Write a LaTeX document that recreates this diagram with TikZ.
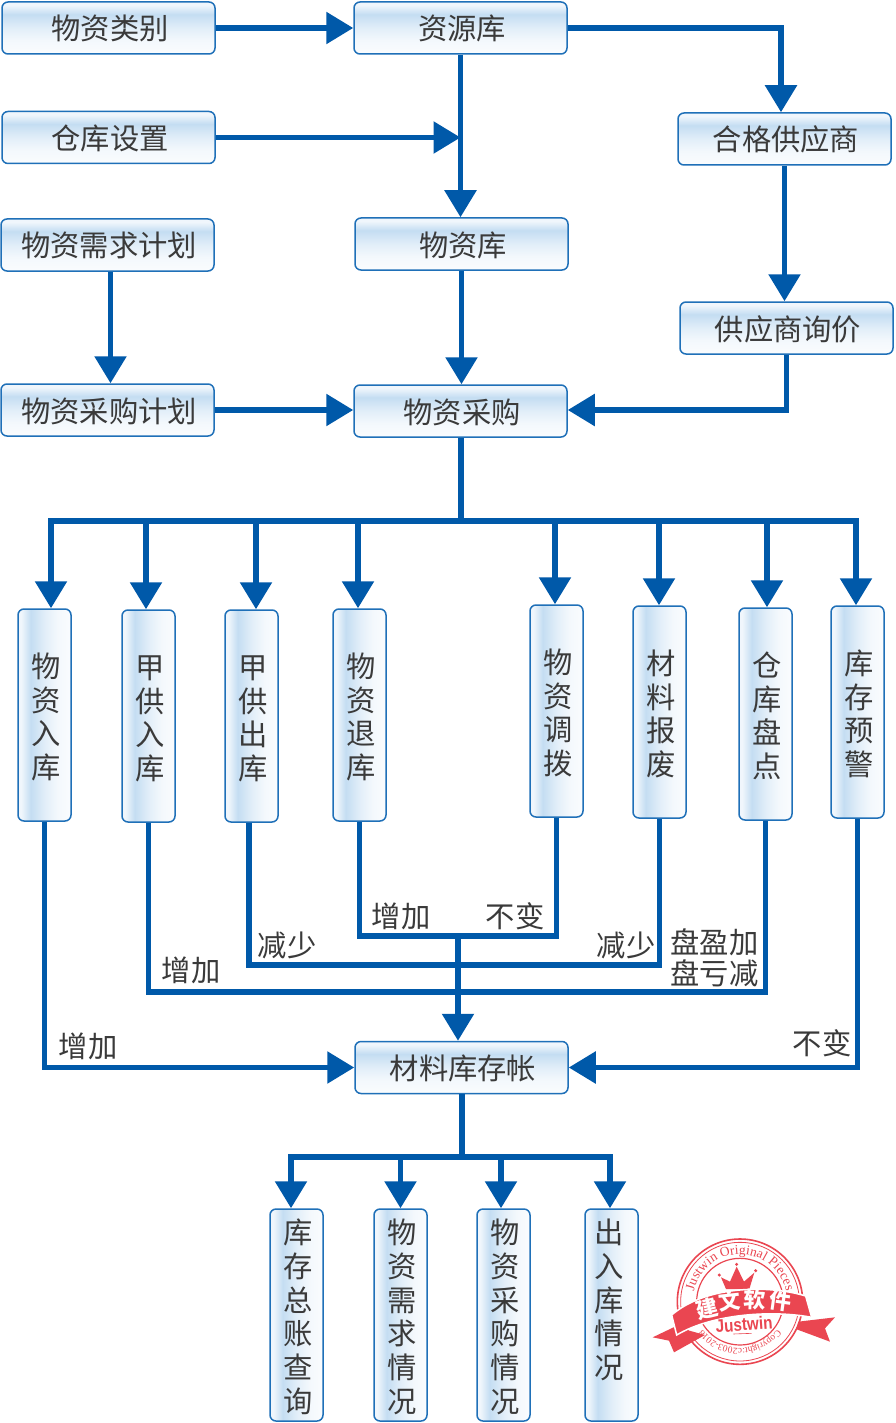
\documentclass[tikz,border=0pt]{standalone}
\usepackage{fontspec}
\setmainfont{Noto Sans CJK SC}
\newfontfamily\stampserif{Liberation Serif}
\newfontfamily\stampsans{Liberation Sans}
\usetikzlibrary{arrows.meta,decorations.text}
\definecolor{flow}{HTML}{0059A9}
\definecolor{edge}{HTML}{1F70B8}
\definecolor{ink}{HTML}{3A3A3A}
\definecolor{stamp}{HTML}{EA4651}
\definecolor{pale}{HTML}{C4DDF2}
\pgfdeclareverticalshading{boxshade}{100bp}{
  color(0bp)=(white); color(25bp)=(white!92!pale); color(38bp)=(white!80!pale); color(50bp)=(white!50!pale); color(63bp)=(pale); color(72bp)=(white!75!pale); color(75bp)=(white!75!pale); color(100bp)=(white)}
\newcommand\fc[1]{\rule{0pt}{28.5pt}\hspace*{3pt}#1}
\newcommand\nc[1]{\hspace*{3pt}#1}
\tikzset{
  base/.style={draw=edge,line width=1.5pt,rounded corners=6pt,shade,shading=boxshade,text=ink,inner sep=0pt,font=\fontsize{29.3}{33.7}\selectfont,align=center},
  hbox/.style={base,minimum width=213pt,minimum height=52pt,text height=27pt,text depth=3pt,execute at begin node={\hspace*{3pt}}},
  vbox/.style={base,minimum width=53pt,minimum height=212pt,shading angle=90},
  conn/.style={draw=flow,line width=5.5pt},
  arr/.style={conn,-{Triangle[width=31pt,length=27pt]}},
  tag/.style={text=ink,inner sep=0pt,font=\fontsize{29.3}{31}\selectfont,align=center},
  ring/.style={draw=stamp},
  stamptext/.style={inner sep=0pt,text=white,font=\bfseries\fontsize{22}{22}\selectfont}
}
\begin{document}
\begin{tikzpicture}[x=1pt,y=-1pt]
\useasboundingbox (0,0) rectangle (895,1423);
\fill[white] (0,0) rectangle (895,1423);
% horizontal boxes
\node[hbox] (lb) at (108.5,28) {物资类别};
\node[hbox] (zy) at (460.5,28) {资源库};
\node[hbox] (ck) at (108.5,137.5) {仓库设置};
\node[hbox] (hg) at (784.5,139) {合格供应商};
\node[hbox] (xq) at (107.5,245) {物资需求计划};
\node[hbox] (wz) at (461.5,244) {物资库};
\node[hbox] (xj) at (786.5,328) {供应商询价};
\node[hbox] (cj) at (107.5,410) {物资采购计划};
\node[hbox] (cg) at (460.5,411) {物资采购};
\node[hbox] (zh) at (461.5,1067.5) {材料库存帐};
% vertical boxes
\node[vbox] (v1) at (44.5,715) {\fc{物}\\\nc{资}\\\nc{入}\\\nc{库}};
\node[vbox] (v2) at (148.5,716) {\fc{甲}\\\nc{供}\\\nc{入}\\\nc{库}};
\node[vbox] (v3) at (251.5,716) {\fc{甲}\\\nc{供}\\\nc{出}\\\nc{库}};
\node[vbox] (v4) at (359.5,715) {\fc{物}\\\nc{资}\\\nc{退}\\\nc{库}};
\node[vbox] (v5) at (556.5,711) {\fc{物}\\\nc{资}\\\nc{调}\\\nc{拨}};
\node[vbox] (v6) at (659.5,712) {\fc{材}\\\nc{料}\\\nc{报}\\\nc{废}};
\node[vbox] (v7) at (765.5,714) {\fc{仓}\\\nc{库}\\\nc{盘}\\\nc{点}};
\node[vbox] (v8) at (857.5,712) {\fc{库}\\\nc{存}\\\nc{预}\\\nc{警}};
\node[vbox] (q1) at (296.5,1315) {\fc{库}\\\nc{存}\\\nc{总}\\\nc{账}\\\nc{查}\\\nc{询}};
\node[vbox] (q2) at (400.5,1315) {\fc{物}\\\nc{资}\\\nc{需}\\\nc{求}\\\nc{情}\\\nc{况}};
\node[vbox] (q3) at (503.5,1315) {\fc{物}\\\nc{资}\\\nc{采}\\\nc{购}\\\nc{情}\\\nc{况}};
\node[vbox] (q4) at (611.5,1315) {\rule{0pt}{28.5pt}\hspace*{-5pt}{出}\\\hspace*{-5pt}{入}\\\hspace*{-5pt}{库}\\\hspace*{-5pt}{情}\\\hspace*{-5pt}{况}\\\phantom{况}};
% junctions
\coordinate (bus) at (461,521);
\coordinate (mid) at (458,936);
\coordinate (low) at (462,1157);
% upper connectors
\draw[arr] (lb.east) -- (zy.west);
\draw[arr] (zy.south) -- (zy.south |- wz.north);
\coordinate (jc) at (zy.south |- ck.east);
\draw[arr] (ck.east) -- (jc);
\draw[arr] (zy.east) -| ([xshift=-3.5pt]hg.north);
\draw[arr] (hg.south) -- (hg.south |- xj.north);
\draw[arr] ([xshift=3pt]xq.south) -- ([xshift=3pt]cj.north);
\draw[arr] (wz.south) -- (wz.south |- cg.north);
\draw[arr] (cj.east) -- (cj.east -| cg.west);
\draw[arr] (xj.south) |- ([yshift=1pt]cg.east);
% bus
\draw[conn] (bus |- cg.south) -- (bus);
\draw[conn,line cap=rect] ([xshift=6.5pt]v1.north |- bus) -- ([xshift=-1.5pt]v8.north |- bus);
\draw[arr] ([xshift=6.5pt]v1.north |- bus) -- ([xshift=6.5pt]v1.north);
\draw[arr] ([xshift=-2.5pt]v2.north |- bus) -- ([xshift=-2.5pt]v2.north);
\draw[arr] ([xshift=4.5pt]v3.north |- bus) -- ([xshift=4.5pt]v3.north);
\draw[arr] ([xshift=-1.5pt]v4.north |- bus) -- ([xshift=-1.5pt]v4.north);
\draw[arr] ([xshift=-1.5pt]v5.north |- bus) -- ([xshift=-1.5pt]v5.north);
\draw[arr] ([xshift=-0.5pt]v6.north |- bus) -- ([xshift=-0.5pt]v6.north);
\draw[arr] ([xshift=1.5pt]v7.north |- bus) -- ([xshift=1.5pt]v7.north);
\draw[arr] ([xshift=-1.5pt]v8.north |- bus) -- ([xshift=-1.5pt]v8.north);
% lower connectors
\coordinate (y1) at (0,992);
\coordinate (y2) at (0,965);
\coordinate (y3) at (0,936);
\draw[arr] (v1.south) |- (zh.west);
\draw[conn] (v2.south) |- (y1 -| v7.south) -- (v7.south);
\draw[conn] ([xshift=-2.5pt]v3.south) |- (y2 -| v6.south) -- (v6.south);
\draw[conn] (v4.south) |- (y3 -| v5.south) -- (v5.south);
\draw[arr] (mid) -- (mid |- zh.north);
\draw[arr] (v8.south) |- (zh.east);
\draw[conn] (low |- zh.south) -- (low);
\draw[conn,line cap=rect] ([xshift=-5.5pt]q1.north |- low) -- ([xshift=-1.5pt]q4.north |- low);
\draw[arr] ([xshift=-5.5pt]q1.north |- low) -- ([xshift=-5.5pt]q1.north);
\draw[arr] (q2.north |- low) -- (q2.north);
\draw[arr] ([xshift=-2.5pt]q3.north |- low) -- ([xshift=-2.5pt]q3.north);
\draw[arr] ([xshift=-1.5pt]q4.north |- low) -- ([xshift=-1.5pt]q4.north);
% labels
\node[tag] (t1) at (88,1046) {增加};
\node[tag] (t2) at (191,970) {增加};
\node[tag] (t3) at (287,945) {减少};
\node[tag] (t4) at (401,916) {增加};
\node[tag] (t5) at (515,916) {不变};
\node[tag] (t6) at (626,945) {减少};
\node[tag] (t7) at (714.5,958) {盘盈加\\盘亏减};
\node[tag] (t8) at (822,1043) {不变};
% stamp, in 3x crop coordinates
\begin{scope}[shift={(640,1220)},x=.3333pt,y=-.3333pt]
\draw[ring,line width=1.6pt] (300,245) circle (188);
\draw[ring,line width=.8pt] (300,245) circle (178);
\draw[ring,line width=1.2pt] (300,245) circle (130);
\fill[stamp] (258,207) -- (243,172) -- (270,185) -- (290,140) -- (312,185) -- (343,158) -- (328,207) -- cycle;
\fill[stamp] (238,165) circle (5) (290,133) circle (5) (347,152) circle (5);
\fill[stamp] (105,320) -- (38,352) -- (87,362) -- (102,397) -- (195,345) -- cycle;
\fill[stamp] (475,305) -- (585,292) -- (555,325) -- (570,365) -- (470,328) -- cycle;
\draw[white,line width=1.5pt,fill=stamp] (95,285) .. controls (200,195) and (390,195) .. (497,228) -- (515,292) .. controls (400,270) and (220,280) .. (110,345) -- cycle;
\node[stamptext,rotate=14] (s1) at (200,265) {建};
\node[stamptext,rotate=6] (s2) at (268,243) {文};
\node[stamptext,rotate=-2] (s3) at (345,238) {软};
\node[stamptext,rotate=-8] (s4) at (422,243) {件};
\node[inner sep=0pt,text=stamp,rotate=4,xscale=.85,font=\stampsans\bfseries\fontsize{18}{18}\selectfont] (s5) at (312,313) {Justwin};
\draw[stamp,line width=.6pt] (280,342) -- (335,340);
\begin{scope}[shift={(300,245)},yscale=-1]
\path[decorate,decoration={text along path,text align=center,text={|\stampserif\fontsize{13.5}{14}\selectfont\color{stamp}|Justwin Original Pieces}}] (170:142) arc (170:10:142);
\path[decorate,decoration={text along path,text align=center,text={|\stampserif\fontsize{9.5}{10}\selectfont\color{stamp}|Copyright:c2003-2018}}] (-15:140) arc (-15:-165:140);
\end{scope}
\end{scope}
\end{tikzpicture}
\end{document}
